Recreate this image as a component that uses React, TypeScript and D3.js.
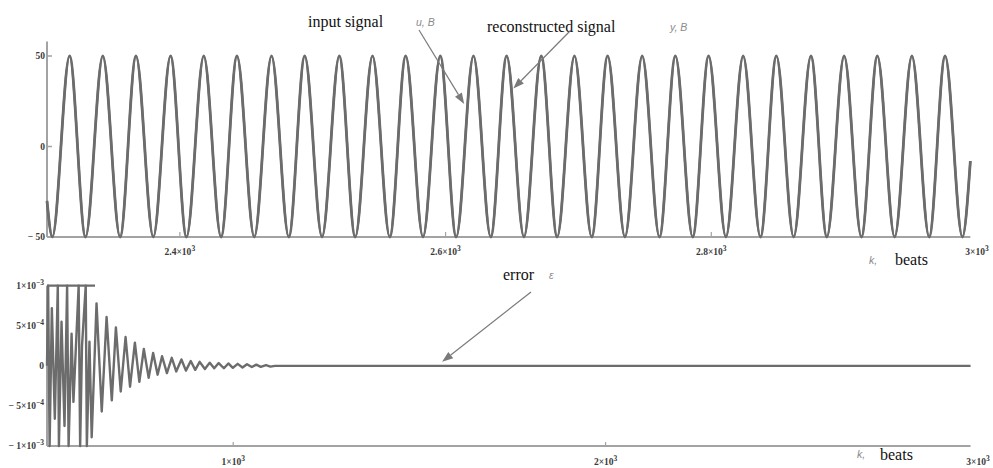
import React from "react";
import * as d3 from "d3";

// top panel: input / reconstructed signal, extrema (beats)
const signalPeakK = [2317, 2342, 2367, 2393, 2418, 2443, 2469, 2494, 2520, 2545, 2570, 2596, 2621, 2646, 2672, 2697, 2722, 2748, 2773, 2798, 2824, 2849, 2875, 2900, 2925, 2951, 2976];
const signalTroughK = [2304, 2329, 2355, 2380, 2405, 2431, 2456, 2482, 2507, 2532, 2558, 2583, 2608, 2634, 2659, 2684, 2710, 2735, 2761, 2786, 2811, 2837, 2862, 2887, 2913, 2938, 2964, 2989];
const signalPeakV = 50;
const signalTroughV = -50;
const signalStart: [number, number] = [2300, -30];
const signalEnd: [number, number] = [2995, -8];

// bottom panel: error, k in beats, value in 1e-3
const errK = [500, 503, 507, 513, 521, 529, 532, 539, 547, 554, 558, 566, 571, 585, 589, 594, 604, 607, 614, 620, 633, 647, 660, 674, 685, 698, 711, 723, 736, 748, 760, 773, 785, 797, 809, 822, 835, 847, 861, 873, 886, 898, 910, 924, 937, 949, 961, 975, 987, 999, 1012, 1025, 1037, 1050, 1062, 1074, 1088, 1100, 1112, 2980];
const errV = [0, 1.5, -1.5, 0.72, -0.66, 1.5, -1.5, 0.55, -0.75, 1.5, -1.5, 0.4, -0.45, 1.5, -1.5, 0.25, 1.5, -1.5, 0.3, -0.89, 0.78, -0.57, 0.61, -0.43, 0.48, -0.32, 0.36, -0.26, 0.29, -0.2, 0.21, -0.15, 0.16, -0.11, 0.12, -0.09, 0.1, -0.07, 0.08, -0.06, 0.06, -0.05, 0.05, -0.04, 0.04, -0.03, 0.035, -0.03, 0.03, -0.025, 0.025, -0.02, 0.02, -0.015, 0.015, -0.012, 0.01, -0.01, 0, 0];

// ticks
const topXTicks = [2400, 2600, 2800, 3000];
const topXLabels = [["2.4×10", "3"], ["2.6×10", "3"], ["2.8×10", "3"], ["3×10", "3"]];
const topYTicks = [50, 0, -50];
const topYLabels = ["50", "0", "\u2212 50"];
const botXTicks = [1000, 2000, 3000];
const botXLabels = [["1×10", "3"], ["2×10", "3"], ["3×10", "3"]];
const botYTicks = [1, 0.5, 0, -0.5, -1];
const botYLabels = [["1×10", "\u22123"], ["5×10", "\u22124"], ["0", ""], ["\u2212 5×10", "\u22124"], ["\u2212 1×10", "\u22123"]];

const W = 993;
const H = 468;
const lineColor = "#6c6c6c";
const axisColor = "#a3a3a3";
const tickFont = "'Liberation Serif', 'DejaVu Serif', serif";

const Arrow = ({ x1, y1, x2, y2 }: { x1: number; y1: number; x2: number; y2: number }) => {
    const a = Math.atan2(y2 - y1, x2 - x1);
    const len = 11;
    const w = 4;
    const bx = x2 - len * Math.cos(a);
    const by = y2 - len * Math.sin(a);
    const p1 = [bx + w * Math.sin(a), by - w * Math.cos(a)];
    const p2 = [bx - w * Math.sin(a), by + w * Math.cos(a)];
    return (
        <g>
            <line x1={x1} y1={y1} x2={bx} y2={by} stroke="#7a7a7a" strokeWidth={1.2} />
            <path d={`M${x2},${y2}L${p1[0]},${p1[1]}L${p2[0]},${p2[1]}Z`} fill="#7a7a7a" />
        </g>
    );
};

const Sup = ({ x, y, base, exp, anchor }: { x: number; y: number; base: string; exp: string; anchor: string }) => (
    <text x={x} y={y} textAnchor={anchor} fontFamily={tickFont} fontSize={9.5} fontWeight="bold" fill="#3a3a3a">
        {base}
        {exp && (
            <tspan dy={-4} fontSize={7.5}>
                {exp}
            </tspan>
        )}
    </text>
);

const App: React.FC = () => {
    // scales
    const xTop = d3.scaleLinear().domain([2300, 3000]).range([47, 977]);
    const yTop = d3.scaleLinear().domain([-50, 50]).range([237, 56]);
    const xBot = d3.scaleLinear().domain([500, 3000]).range([47, 978]);
    const yBot = d3.scaleLinear().domain([-1, 1]).range([446, 285.7]).clamp(true);

    const signal: [number, number][] = [
        signalStart,
        ...signalPeakK.map((k) => [k, signalPeakV] as [number, number]),
        ...signalTroughK.map((k) => [k, signalTroughV] as [number, number]),
        signalEnd,
    ].sort((a, b) => a[0] - b[0]);

    const sigLine = d3
        .line<[number, number]>()
        .x((d) => xTop(d[0]))
        .y((d) => yTop(d[1]))
        .curve(d3.curveMonotoneX);

    const errData = errK.map((k, i) => [k, errV[i]] as [number, number]);
    const errLine = d3
        .line<[number, number]>()
        .x((d) => xBot(d[0]))
        .y((d) => yBot(d[1]));

    // overflow marker where the error leaves the plot range
    const over = errData.filter((d) => d[1] > 1);
    const overStart = errK[0];
    const overEnd = over.length ? over[over.length - 1][0] + 25 : errK[0];

    const topEnd = signalEnd[0];
    const botEnd = errK[errK.length - 1];

    return (
        <svg width={W} height={H} style={{ position: "absolute", left: 0, top: 0, background: "#fff" }}>
            {/* ---------- top panel ---------- */}
            <line x1={xTop(2300)} x2={xTop(2300)} y1={yTop(58)} y2={yTop(-50)} stroke={axisColor} strokeWidth={2} />
            <line x1={xTop(2300)} x2={xTop(topEnd)} y1={yTop(-50)} y2={yTop(-50)} stroke={axisColor} strokeWidth={2} />
            {topYTicks.map((t, i) => (
                <g key={t}>
                    <line x1={xTop(2300)} x2={xTop(2300) + 5} y1={yTop(t)} y2={yTop(t)} stroke={axisColor} strokeWidth={1.5} />
                    <text x={45} y={yTop(t) + 3} textAnchor="end" fontFamily={tickFont} fontSize={9.5} fontWeight="bold" fill="#3a3a3a">
                        {topYLabels[i]}
                    </text>
                </g>
            ))}
            {topXTicks.map((t, i) => (
                <g key={t}>
                    {t < topEnd && <line x1={xTop(t)} x2={xTop(t)} y1={yTop(-50)} y2={yTop(-50) - 5} stroke={axisColor} strokeWidth={1.2} />}
                    <Sup x={xTop(t)} y={255} base={topXLabels[i][0]} exp={topXLabels[i][1]} anchor="middle" />
                </g>
            ))}
            {/* input and reconstructed signal coincide */}
            <path d={sigLine(signal) || ""} fill="none" stroke={lineColor} strokeWidth={2.8} strokeLinejoin="round" />
            <path d={sigLine(signal) || ""} fill="none" stroke={lineColor} strokeWidth={2.2} />

            {/* annotations, top */}
            <text x={308} y={27} fontFamily="'Liberation Serif', serif" fontSize={16} fill="#111">input signal</text>
            <text x={416} y={26} fontFamily="'Liberation Sans', Arial, sans-serif" fontStyle="italic" fontSize={10.5} fill="#8a8a8a">u, B</text>
            <text x={487} y={32} fontFamily="'Liberation Serif', serif" fontSize={16} fill="#111">reconstructed signal</text>
            <text x={670} y={31} fontFamily="'Liberation Sans', Arial, sans-serif" fontStyle="italic" fontSize={10.5} fill="#8a8a8a">y, B</text>
            <Arrow x1={419} y1={30} x2={xTop(2614)} y2={yTop(23.5)} />
            <Arrow x1={571} y1={30} x2={xTop(2651)} y2={yTop(32)} />
            <text x={869} y={264} fontFamily="'Liberation Sans', Arial, sans-serif" fontStyle="italic" fontSize={10.5} fill="#8a8a8a">k,</text>
            <text x={895} y={265} fontFamily="'Liberation Serif', serif" fontSize={16} fill="#111">beats</text>

            {/* ---------- bottom panel ---------- */}
            <line x1={xBot(500)} x2={xBot(500)} y1={yBot(1)} y2={yBot(-1)} stroke={axisColor} strokeWidth={2} />
            <line x1={xBot(500)} x2={xBot(botEnd)} y1={yBot(-1)} y2={yBot(-1)} stroke={axisColor} strokeWidth={2} />
            <line x1={xBot(overStart)} x2={xBot(overEnd)} y1={yBot(1)} y2={yBot(1)} stroke={lineColor} strokeWidth={2.2} />
            {botYTicks.map((t, i) => (
                <Sup key={t} x={44} y={yBot(t) + 3} base={botYLabels[i][0]} exp={botYLabels[i][1]} anchor="end" />
            ))}
            {botXTicks.map((t, i) => (
                <g key={t}>
                    {t < botEnd && <line x1={xBot(t)} x2={xBot(t)} y1={yBot(-1)} y2={yBot(-1) - 4} stroke={axisColor} strokeWidth={1.2} />}
                    <Sup x={xBot(t)} y={465} base={botXLabels[i][0]} exp={botXLabels[i][1]} anchor="middle" />
                </g>
            ))}
            <path d={errLine(errData) || ""} fill="none" stroke={lineColor} strokeWidth={2.4} strokeLinejoin="round" />

            {/* annotations, bottom */}
            <text x={503} y={280} fontFamily="'Liberation Serif', serif" fontSize={16} fill="#111">error</text>
            <text x={549} y={279} fontFamily="'Liberation Sans', Arial, sans-serif" fontStyle="italic" fontSize={10.5} fill="#8a8a8a">ε</text>
            <Arrow x1={531} y1={292} x2={xBot(1561)} y2={yBot(0.05)} />
            <text x={857} y={458} fontFamily="'Liberation Sans', Arial, sans-serif" fontStyle="italic" fontSize={10.5} fill="#8a8a8a">k,</text>
            <text x={880} y={460} fontFamily="'Liberation Serif', serif" fontSize={16} fill="#111">beats</text>
        </svg>
    );
};

export default App;
